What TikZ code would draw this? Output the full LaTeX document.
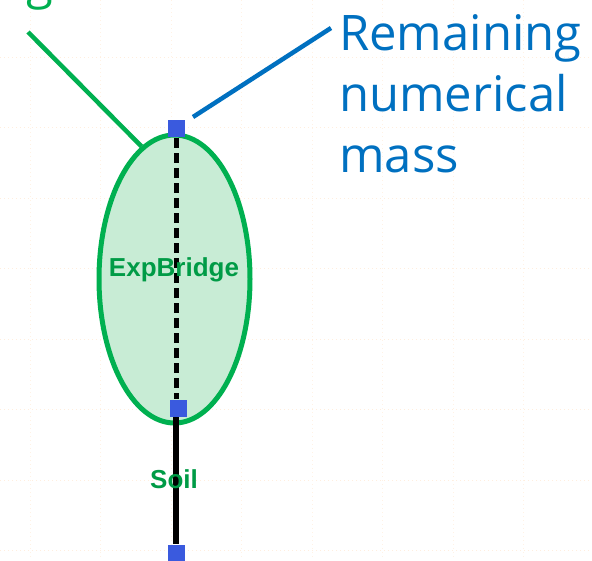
\documentclass[tikz,border=0pt]{standalone}
\usepackage{fontspec}
\setmainfont{Liberation Sans}
\newfontfamily\calloutfont{Open Sans}
\usetikzlibrary{shapes.geometric}
\definecolor{calloutblue}{RGB}{0,112,192}
\definecolor{bridgegreen}{RGB}{0,176,80}
\definecolor{bridgefill}{RGB}{200,236,213}
\definecolor{massblue}{RGB}{58,90,222}
\tikzset{
	massnode/.style={fill=massblue, minimum size=17pt, inner sep=0pt},
	callout/.style={font=\calloutfont\fontsize{49}{61}\selectfont, inner sep=0pt},
	tag/.style={font=\bfseries\fontsize{26}{30}\selectfont, text=bridgegreen!88!black, inner sep=0pt}
}
\begin{document}
\begin{tikzpicture}[x=1pt,y=-1pt]
	\useasboundingbox (0,0) rectangle (592,560);
	\clip (0,0) rectangle (592,560);
	
	% faint background grid
	\foreach \i in {0,...,7}
		\draw[orange!13, line width=.8pt, dash pattern=on 1pt off 3pt] (0,57+70.5*\i) -- (592,57+70.5*\i);
	\foreach \i in {0,...,8}
		\draw[orange!10, line width=.8pt, dash pattern=on 1pt off 3pt] (30+70.5*\i,0) -- (30+70.5*\i,560);
	
	\node[ellipse, draw=bridgegreen, fill=bridgefill, line width=5pt, minimum width=151pt, minimum height=288pt, inner sep=0pt] (bridge) at (174.5,279) {};
	
	\node[massnode] (top) at (176.5,128) {};
	\node[massnode] (mid) at (178,408) {};
	\node[massnode] (soil) at (176.5,553) {};
	
	\draw[black, line width=5pt, dash pattern=on 10pt off 5pt] (176,138) -- (176,399);
	\draw[black, line width=6pt] (mid.south -| 176,0) -- (soil.north -| 176,0);
	\node[massnode] at (mid) {};
	
	\node[tag] (exp) at (174,270) {ExpBridge};
	\node[tag] (soillabel) at (174,479) {Soil};
	
	% callouts
	\node[callout, text=calloutblue, anchor=north west, align=left] (remaining) at (339,14) {Remaining\\numerical\\mass};
	\node[callout, text=bridgegreen, anchor=base east] (weight) at (101,-1.5) {weight};
	\coordinate (bluefoot) at (193,117);
	\coordinate (bluetip) at (331,28);
	\coordinate (greentip) at (28,32);
	\draw[calloutblue, line width=4.5pt] (bluefoot) -- (bluetip);
	\draw[bridgegreen, line width=4.5pt] (greentip) -- (bridge.104);
\end{tikzpicture}
\end{document}
